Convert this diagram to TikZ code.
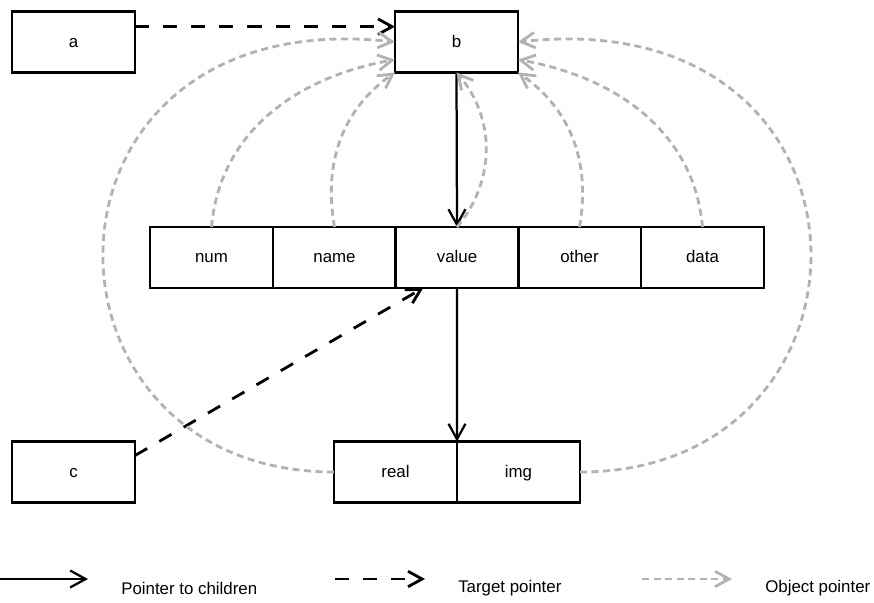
\documentclass[tikz,border=0pt]{standalone}
\usepackage{fontspec}
\setmainfont{Liberation Sans}
\usetikzlibrary{arrows.meta}

\begin{document}
\begin{tikzpicture}[x=0.25mm,y=0.25mm,
  caixa/.style={draw,line width=1.9pt,minimum width=30.75mm,minimum height=15.2mm,inner sep=0pt,outer sep=0pt,text height=9pt,text depth=1.6pt,font=\fontsize{12pt}{14pt}\selectfont},
  filho/.style={line width=1.6pt,-{Straight Barb[length=11pt,width=12pt]}},
  alvo/.style={line width=2pt,dash pattern=on 10pt off 10pt,-{Straight Barb[length=10pt,width=11pt]}},
  objeto/.style={line width=2pt,black!30,dash pattern=on 5pt off 3.2pt,-{Straight Barb[length=10pt,width=11pt]}},
  legenda/.style={anchor=west,inner sep=0pt,font=\fontsize{12pt}{14pt}\selectfont}]
  \useasboundingbox (0,0) rectangle (874,-602);
  %caixas
  \node[caixa] (a) at (73.5,-42) {a};
  \node[caixa] (b) at (456.5,-42) {b};
  \node[caixa] (num) at (211.5,-257.5) {num};
  \node[caixa] (name) at (334.5,-257.5) {name};
  \node[caixa] (value) at (457,-257.5) {value};
  \node[caixa] (other) at (579.5,-257.5) {other};
  \node[caixa] (data) at (702.5,-257.5) {data};
  \node[caixa] (c) at (73.5,-472) {c};
  \node[caixa] (real) at (395.5,-472) {real};
  \node[caixa] (img) at (518.5,-472) {img};

  %ponteiros para os filhos
  \draw[filho] (b.south) -- (value.north);
  \draw[filho] (value.south) -- (real.north east);
  %ponteiros alvo
  \draw[alvo] (a.14) -- (b.166);
  \draw[alvo] (c.15) -- (value.222);
  %ponteiros de objeto
  \draw[objeto] (real.west) .. controls (17,-472) and (17,0) .. (b.west);
  \draw[objeto] (num.north) to[out=85,in=190] (b.196);
  \draw[objeto] (name.north) to[out=100,in=215] (b.south west);
  \draw[objeto] (value.north) to[bend right=40] (b.south);
  \draw[objeto] (other.north) to[out=80,in=-35] (b.south east);
  \draw[objeto] (data.north) to[out=95,in=-10] (b.-16);
  \draw[objeto] (img.east) .. controls (897,-472) and (897,0) .. (b.east);

  %legenda
  \coordinate (f1) at (0,-579);
  \coordinate (f2) at (88,-579);
  \draw[filho] (f1) -- (f2);
  \node[legenda] (lf) at (121,-588) {Pointer to children};
  \coordinate (t1) at (335,-579);
  \coordinate (t2) at (425,-579);
  \draw[alvo] (t1) -- (t2);
  \node[legenda] (lt) at (458,-588) {Target pointer};
  \coordinate (o1) at (642,-579);
  \coordinate (o2) at (732,-579);
  \draw[objeto] (o1) -- (o2);
  \node[legenda] (lo) at (765,-588) {Object pointer};
\end{tikzpicture}
\end{document}
